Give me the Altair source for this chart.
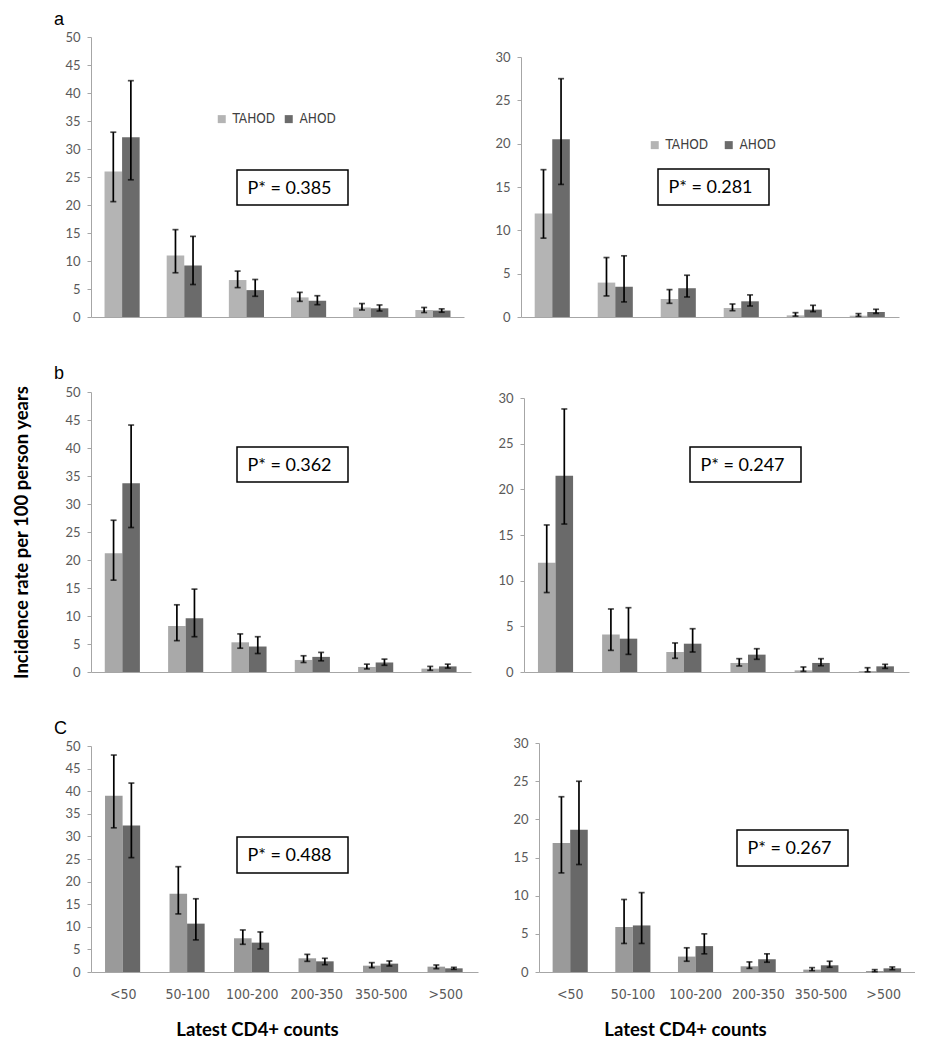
import altair as alt
import pandas as pd

CATEGORIES = ["<50", "50-100", "100-200", "200-350", "350-500", ">500"]
SERIES = ["TAHOD", "AHOD"]

# ---- Panel a, left (0-50) ----
A1_TAHOD = [26.0, 11.0, 6.6, 3.5, 1.7, 1.25]
A1_TAHOD_LO = [20.6, 7.9, 5.25, 2.8, 1.25, 0.8]
A1_TAHOD_HI = [33.0, 15.6, 8.2, 4.4, 2.4, 1.7]
A1_AHOD = [32.1, 9.2, 4.8, 2.9, 1.55, 1.15]
A1_AHOD_LO = [24.5, 5.8, 3.7, 2.2, 1.07, 0.85]
A1_AHOD_HI = [42.2, 14.4, 6.7, 3.8, 2.15, 1.45]

# ---- Panel a, right (0-30) ----
A2_TAHOD = [11.95, 3.97, 2.08, 1.04, 0.19, 0.15]
A2_TAHOD_LO = [9.1, 2.43, 1.58, 0.73, 0.1, 0.08]
A2_TAHOD_HI = [17.0, 6.86, 3.16, 1.5, 0.5, 0.39]
A2_AHOD = [20.5, 3.5, 3.32, 1.81, 0.85, 0.58]
A2_AHOD_LO = [15.3, 1.74, 2.31, 1.27, 0.62, 0.42]
A2_AHOD_HI = [27.5, 7.06, 4.82, 2.55, 1.35, 0.89]

# ---- Panel b, left (0-50) ----
B1_TAHOD = [21.2, 8.2, 5.3, 2.15, 0.9, 0.6]
B1_TAHOD_LO = [16.4, 5.6, 4.25, 1.7, 0.55, 0.3]
B1_TAHOD_HI = [27.1, 12.0, 6.8, 2.9, 1.4, 1.0]
B1_AHOD = [33.7, 9.6, 4.55, 2.7, 1.7, 1.0]
B1_AHOD_LO = [25.8, 6.3, 3.3, 2.0, 1.2, 0.7]
B1_AHOD_HI = [44.1, 14.8, 6.3, 3.5, 2.3, 1.4]

# ---- Panel b, right (0-30) ----
B2_TAHOD = [11.97, 4.1, 2.19, 0.99, 0.18, 0.1]
B2_TAHOD_LO = [8.7, 2.37, 1.5, 0.66, 0.07, 0.02]
B2_TAHOD_HI = [16.1, 6.9, 3.18, 1.46, 0.55, 0.47]
B2_AHOD = [21.5, 3.65, 3.1, 1.9, 0.99, 0.62]
B2_AHOD_LO = [16.2, 1.93, 2.19, 1.39, 0.69, 0.4]
B2_AHOD_HI = [28.8, 7.04, 4.74, 2.55, 1.46, 0.84]

# ---- Panel c, left (0-50) ----
C1_TAHOD = [39.0, 17.3, 7.46, 3.03, 1.4, 1.18]
C1_TAHOD_LO = [31.9, 12.85, 6.13, 2.36, 0.96, 0.74]
C1_TAHOD_HI = [48.0, 23.3, 9.3, 3.9, 2.07, 1.55]
C1_AHOD = [32.4, 10.7, 6.5, 2.36, 1.85, 0.81]
C1_AHOD_LO = [25.3, 7.1, 5.1, 1.62, 1.33, 0.59]
C1_AHOD_HI = [41.8, 16.2, 8.86, 3.03, 2.44, 1.03]

# ---- Panel c, right (0-30) ----
C2_TAHOD = [16.9, 5.9, 2.02, 0.75, 0.31, 0.13]
C2_TAHOD_LO = [12.98, 3.74, 1.41, 0.48, 0.18, 0.04]
C2_TAHOD_HI = [22.96, 9.5, 3.17, 1.32, 0.57, 0.31]
C2_AHOD = [18.65, 6.1, 3.39, 1.67, 0.88, 0.48]
C2_AHOD_LO = [14.08, 3.74, 2.38, 1.28, 0.62, 0.31]
C2_AHOD_HI = [24.99, 10.4, 5.0, 2.38, 1.41, 0.66]

P_VALUES = ["P* = 0.385", "P* = 0.281", "P* = 0.362", "P* = 0.247", "P* = 0.488", "P* = 0.267"]
PANEL_LETTERS = ["a", "b", "C"]
Y_TITLE = "Incidence rate per 100 person years"
X_TITLE = "Latest CD4+ counts"

FONT = "Lato, Liberation Sans, sans-serif"
NARROW = "Liberation Sans Narrow, DejaVu Sans Condensed, Lato, sans-serif"
AXIS_GRAY = "#a6a6a6"
LABEL_GRAY = "#595959"


def panel(t, tlo, thi, a, alo, ahi, ymax, width, height, yrange, colors,
          pval, box, letter=None, legend_pos=None,
          y_title=None, bottom=False, x_title_x=None):
    df = pd.DataFrame({
        "cat": CATEGORIES * 2,
        "series": ["TAHOD"] * 6 + ["AHOD"] * 6,
        "value": t + a,
        "lo": tlo + alo,
        "hi": thi + ahi,
    })
    base = alt.Chart(df)
    if bottom:
        xaxis = alt.Axis(title=X_TITLE, labelAngle=0, ticks=False, labelPadding=15,
                         labelFont=NARROW, labelFontSize=14, labelColor=LABEL_GRAY,
                         domainColor=AXIS_GRAY, titleFont=FONT, titleFontSize=18.5,
                         titleFontWeight="bold", titleColor="black", titlePadding=19,
                         titleX=x_title_x)
    else:
        xaxis = alt.Axis(title=None, labels=False, ticks=False, domainColor=AXIS_GRAY)
    yaxis_kwargs = dict(values=list(range(0, ymax + 1, 5)), grid=False, tickSize=4,
                        tickColor=AXIS_GRAY, domainColor=AXIS_GRAY, labelPadding=7,
                        labelFont=FONT, labelFontSize=13, labelColor=LABEL_GRAY)
    if y_title is not None:
        yaxis = alt.Axis(title=y_title, titleFont=FONT, titleFontSize=18.5,
                         titleFontWeight="bold", titleColor="black", titlePadding=33,
                         **yaxis_kwargs)
    else:
        yaxis = alt.Axis(title=None, **yaxis_kwargs)
    yscale = alt.Scale(domain=[0, ymax], nice=False, range=yrange)
    xenc = alt.X("cat:N", sort=CATEGORIES,
                 scale=alt.Scale(domain=CATEGORIES, paddingInner=0.435, paddingOuter=0.2175),
                 axis=xaxis)
    xoff = alt.XOffset("series:N", sort=SERIES,
                       scale=alt.Scale(domain=SERIES, paddingInner=0, paddingOuter=0))

    if legend_pos is not None:
        legend = alt.Legend(orient="none", legendX=legend_pos[0], legendY=legend_pos[1],
                            direction="horizontal", title=None, symbolType="square",
                            symbolSize=64, symbolStrokeWidth=0, labelFont=NARROW,
                            labelFontSize=13.5, labelColor="#404040", labelOffset=4,
                            columnPadding=legend_pos[2], padding=0)
    else:
        legend = None

    bars = base.mark_bar().encode(
        x=xenc, xOffset=xoff,
        y=alt.Y("value:Q", scale=yscale, axis=yaxis),
        color=alt.Color("series:N", scale=alt.Scale(domain=SERIES, range=colors),
                        legend=legend),
    )
    rules = base.mark_rule(color="black", strokeWidth=1.7).encode(
        x=xenc, xOffset=xoff,
        y=alt.Y("lo:Q", scale=yscale, axis=yaxis), y2="hi:Q",
    )
    cap_lo = base.mark_tick(color="black", thickness=1.7, size=6).encode(
        x=xenc, xOffset=xoff, y=alt.Y("lo:Q", scale=yscale, axis=yaxis),
    )
    cap_hi = base.mark_tick(color="black", thickness=1.7, size=6).encode(
        x=xenc, xOffset=xoff, y=alt.Y("hi:Q", scale=yscale, axis=yaxis),
    )
    note = alt.Chart(pd.DataFrame({"label": [pval]}))
    x0, y0, x1, y1 = box
    rect = note.mark_rect(fill="white", stroke="black", strokeWidth=1.5).encode(
        x=alt.value(x0), x2=alt.value(x1), y=alt.value(y0), y2=alt.value(y1),
    )
    txt = note.mark_text(font=FONT, fontSize=18, color="black", align="center",
                         baseline="middle").encode(
        x=alt.value((x0 + x1) / 2 - 3), y=alt.value((y0 + y1) / 2 + 1), text="label:N",
    )
    props = dict(width=width, height=height)
    if letter is not None:
        props["title"] = alt.TitleParams(letter, anchor="start", frame="group", dx=-37,
                                         offset=2, font="Liberation Sans",
                                         fontSize=18, fontWeight="normal", color="black")
    return alt.layer(bars, rules, cap_lo, cap_hi, rect, txt).properties(**props)


COL_A = ["#b4b4b4", "#6b6b6b"]
COL_B = ["#a9a9a9", "#6a6a6a"]
COL_C = ["#9a9a9a", "#686868"]

a_left = panel(A1_TAHOD, A1_TAHOD_LO, A1_TAHOD_HI, A1_AHOD, A1_AHOD_LO, A1_AHOD_HI,
               50, 373, 281, [281, 1], COL_A, P_VALUES[0], (146, 134, 257, 169),
               PANEL_LETTERS[0], legend_pos=(124, 76, 6), y_title=" ")
a_right = panel(A2_TAHOD, A2_TAHOD_LO, A2_TAHOD_HI, A2_AHOD, A2_AHOD_LO, A2_AHOD_HI,
                30, 378, 281, [281, 21], COL_A, P_VALUES[1], (137, 133, 248, 169),
                legend_pos=(127, 102, 13))
b_left = panel(B1_TAHOD, B1_TAHOD_LO, B1_TAHOD_HI, B1_AHOD, B1_AHOD_LO, B1_AHOD_HI,
               50, 380, 280, [280, 0], COL_B, P_VALUES[2], (146, 55, 257, 90),
               PANEL_LETTERS[1], y_title=Y_TITLE)
b_right = panel(B2_TAHOD, B2_TAHOD_LO, B2_TAHOD_HI, B2_AHOD, B2_AHOD_LO, B2_AHOD_HI,
                30, 385, 280, [280, 6], COL_B, P_VALUES[3], (166, 55, 277, 90))
c_left = panel(C1_TAHOD, C1_TAHOD_LO, C1_TAHOD_HI, C1_AHOD, C1_AHOD_LO, C1_AHOD_HI,
               50, 387, 230, [230, 4], COL_C, P_VALUES[4], (146, 95, 257, 131),
               PANEL_LETTERS[2], y_title=" ", bottom=True, x_title_x=166)
c_right = panel(C2_TAHOD, C2_TAHOD_LO, C2_TAHOD_HI, C2_AHOD, C2_AHOD_LO, C2_AHOD_HI,
                30, 376, 230, [230, 1], COL_C, P_VALUES[5], (198, 88, 309, 124),
                bottom=True, x_title_x=146)


def row(left, right, spacing):
    return alt.hconcat(left, right, spacing=spacing).resolve_scale(
        color="independent", x="independent", y="independent"
    ).resolve_legend(color="independent")


chart = alt.vconcat(
    row(a_left, a_right, 30),
    row(b_left, b_right, 26),
    row(c_left, c_right, 34),
    spacing=41,
).resolve_scale(
    color="independent", x="independent", y="independent"
).resolve_legend(color="independent").properties(
    padding={"left": 4, "top": 3, "right": 0, "bottom": 2},
    background="white",
).configure_view(strokeWidth=0)

chart.save("out.html", embed_options={"renderer": "svg", "actions": False})
